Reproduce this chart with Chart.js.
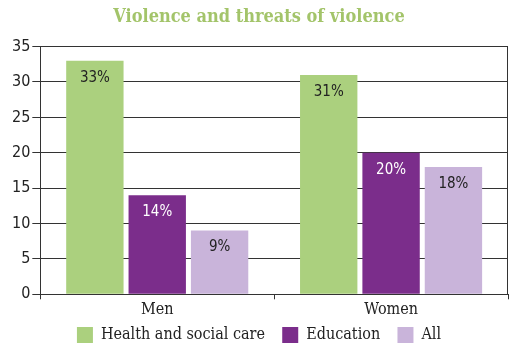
<!DOCTYPE html>
<html>
<head>
<meta charset="utf-8">
<script src="https://cdn.jsdelivr.net/npm/chart.js@4/dist/chart.umd.min.js"></script>
<style>
  html, body { margin: 0; padding: 0; background: #fff; }
  #wrap { width: 510px; height: 344px; }
</style>
</head>
<body>
<div id="wrap"><canvas id="chart"></canvas></div>
<script>
'use strict';
const categories = ['Men', 'Women'];
const seriesNames = ['Health and social care', 'Education', 'All'];
const healthValues = [33, 31];
const educationValues = [14, 20];
const allValues = [9, 18];
const yTicks = [0, 5, 10, 15, 20, 25, 30, 35];

const colours = ['#abd07e', '#7b2d8b', '#c9b4da'];
const labelColours = ['#222', '#fff', '#222'];

// labels inside the top of each bar
const barLabels = {
  id: 'barLabels',
  afterDatasetsDraw(chart) {
    const ctx = chart.ctx;
    ctx.save();
    ctx.font = '15px "DejaVu Sans Condensed", "DejaVu Sans"';
    ctx.textAlign = 'center';
    ctx.textBaseline = 'middle';
    chart.data.datasets.forEach((ds, i) => {
      chart.getDatasetMeta(i).data.forEach((bar, j) => {
        ctx.fillStyle = labelColours[i];
        ctx.fillText(ds.data[j] + '%', bar.x, bar.y + 17);
      });
    });
    ctx.restore();
  }
};

// right edge of the box
const frame = {
  id: 'frame',
  afterDraw(chart) {
    const a = chart.chartArea;
    const ctx = chart.ctx;
    ctx.save();
    ctx.strokeStyle = '#333';
    ctx.lineWidth = 1;
    ctx.beginPath();
    ctx.moveTo(Math.round(a.right) - 0.5, a.top);
    ctx.lineTo(Math.round(a.right) - 0.5, a.bottom);
    ctx.stroke();
    ctx.restore();
  }
};

new Chart(document.getElementById('chart'), {
  type: 'bar',
  data: {
    labels: categories,
    datasets: [
      { label: seriesNames[0], data: healthValues, backgroundColor: colours[0] },
      { label: seriesNames[1], data: educationValues, backgroundColor: colours[1] },
      { label: seriesNames[2], data: allValues, backgroundColor: colours[2] }
    ]
  },
  options: {
    responsive: true,
    maintainAspectRatio: false,
    animation: false,
    layout: { padding: { left: 10, right: 2, top: 0, bottom: -9 } },
    datasets: { bar: { categoryPercentage: 0.8, barPercentage: 0.92 } },
    plugins: {
      title: {
        display: true,
        text: 'Violence and threats of violence',
        color: '#a3c46a',
        font: { family: '"DejaVu Serif Condensed", "DejaVu Serif"', size: 18, weight: 'bold' },
        padding: { top: 7, bottom: 18 }
      },
      legend: {
        position: 'bottom',
        labels: {
          color: '#222',
          boxWidth: 16,
          boxHeight: 16,
          padding: 6.5,
          font: { family: '"DejaVu Serif Condensed", "DejaVu Serif"', size: 16 },
          generateLabels(chart) {
            const items = Chart.defaults.plugins.legend.labels.generateLabels(chart);
            // a bit more room between legend entries
            items.forEach((it, k) => { if (k < items.length - 1) it.text += '\u2002\u2005'; });
            return items;
          }
        }
      },
      tooltip: { enabled: false }
    },
    scales: {
      x: {
        grid: { display: true, drawOnChartArea: false, tickLength: 5, color: '#333', offset: true },
        border: { color: '#333' },
        ticks: { color: '#222', font: { family: '"DejaVu Serif Condensed", "DejaVu Serif"', size: 16 }, padding: 1 }
      },
      y: {
        min: 0,
        max: 35,
        afterBuildTicks(axis) { axis.ticks = yTicks.map(v => ({ value: v })); },
        grid: { color: '#333', tickLength: 8 },
        border: { color: '#333' },
        ticks: { color: '#222', font: { family: '"DejaVu Sans Condensed", "DejaVu Sans"', size: 16 }, padding: 2 }
      }
    }
  },
  plugins: [barLabels, frame]
});
</script>
</body>
</html>
